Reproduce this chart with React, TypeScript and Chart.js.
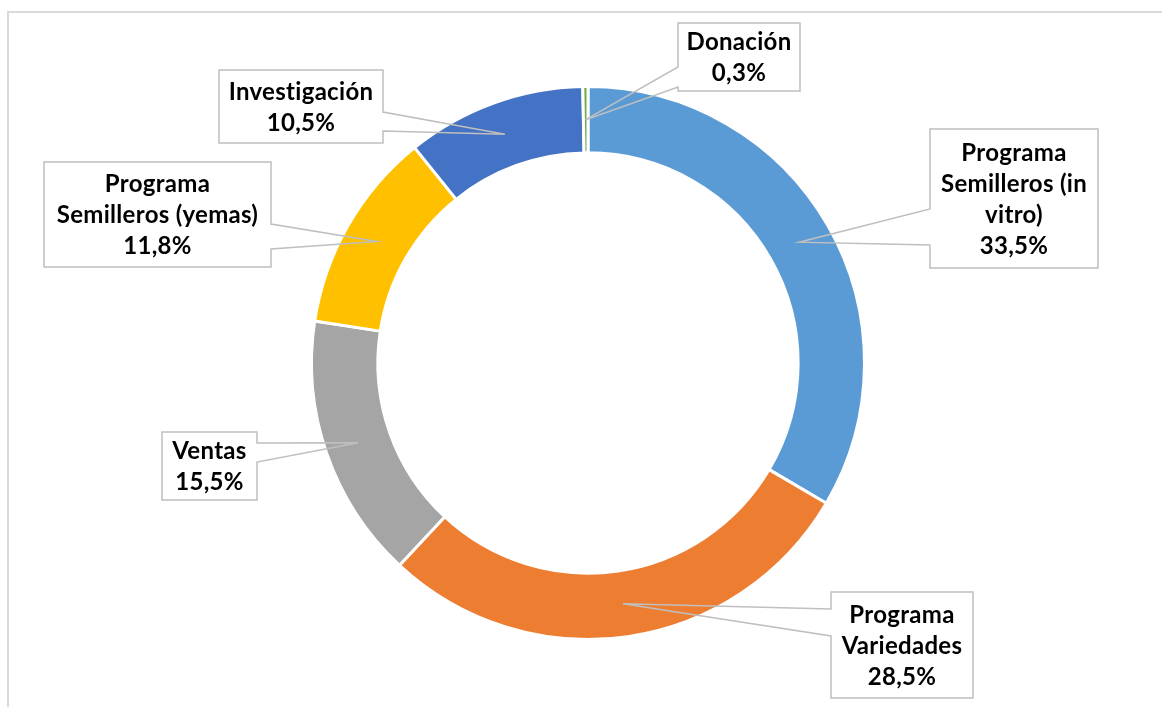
import React, { useEffect, useRef } from "react";
import { Chart, registerables } from "chart.js";

Chart.register(...registerables);

const categories = [
  "Programa Semilleros (in vitro)",
  "Programa Variedades",
  "Ventas",
  "Programa Semilleros (yemas)",
  "Investigación",
  "Donación",
];
const values = [33.5, 28.5, 15.5, 11.8, 10.5, 0.3];
const labelLines = [
  ["Programa", "Semilleros (in", "vitro)"],
  ["Programa", "Variedades"],
  ["Ventas"],
  ["Programa", "Semilleros (yemas)"],
  ["Investigación"],
  ["Donación"],
];
const colors = ["#5B9BD5", "#ED7D31", "#A5A5A5", "#FFC000", "#4472C4", "#70AD47"];

// callout boxes (canvas px): box rect, side where the pointer leaves, pointer base y-range
const calloutLayout = [
  { l: 930, t: 129, r: 1098, b: 268, side: "left", w0: 209, w1: 245 },
  { l: 831, t: 592, r: 973, b: 698, side: "left", w0: 609, w1: 636 },
  { l: 162, t: 432, r: 257, b: 500, side: "right", w0: 443, w1: 462 },
  { l: 44, t: 162, r: 271, b: 267, side: "right", w0: 224, w1: 249 },
  { l: 219, t: 70, r: 383, b: 143, side: "right", w0: 112, w1: 131 },
  { l: 678, t: 23, r: 800, b: 91, side: "left", w0: 67, w1: 87 },
];

const fmt = (v: number) => v.toFixed(1).replace(".", ",") + "%";

const calloutPlugin = {
  id: "callouts",
  beforeDraw(chart: any) {
    const ctx = chart.ctx;
    ctx.save();
    ctx.strokeStyle = "#D9D9D9";
    ctx.lineWidth = 2;
    ctx.strokeRect(8, 12, 1400, 1000);
    ctx.restore();
  },
  afterDraw(chart: any) {
    const ctx = chart.ctx;
    const meta = chart.getDatasetMeta(0);
    meta.data.forEach((arc: any, i: number) => {
      const p = arc.getProps(["x", "y", "startAngle", "endAngle", "innerRadius", "outerRadius"], true);
      const mid = (p.startAngle + p.endAngle) / 2;
      const rr = (p.innerRadius + p.outerRadius) / 2;
      const ax = p.x + Math.cos(mid) * rr;
      const ay = p.y + Math.sin(mid) * rr;
      const c = calloutLayout[i];
      ctx.save();
      ctx.fillStyle = "#FFFFFF";
      ctx.fillRect(c.l, c.t, c.r - c.l, c.b - c.t);
      ctx.strokeStyle = "#BFBFBF";
      ctx.lineWidth = 1.5;
      ctx.lineJoin = "miter";
      ctx.beginPath();
      if (c.side === "left") {
        ctx.moveTo(c.l, c.w0);
        ctx.lineTo(c.l, c.t);
        ctx.lineTo(c.r, c.t);
        ctx.lineTo(c.r, c.b);
        ctx.lineTo(c.l, c.b);
        ctx.lineTo(c.l, c.w1);
        ctx.lineTo(ax, ay);
        ctx.closePath();
      } else {
        ctx.moveTo(c.r, c.w0);
        ctx.lineTo(c.r, c.t);
        ctx.lineTo(c.l, c.t);
        ctx.lineTo(c.l, c.b);
        ctx.lineTo(c.r, c.b);
        ctx.lineTo(c.r, c.w1);
        ctx.lineTo(ax, ay);
        ctx.closePath();
      }
      ctx.stroke();
      const lines = [...labelLines[i], fmt(values[i])];
      const pitch = 31;
      const cx = (c.l + c.r) / 2;
      const cy = (c.t + c.b) / 2;
      ctx.fillStyle = "#000000";
      ctx.font = "bold 24px Lato";
      try {
        (ctx as any).letterSpacing = "0.3px";
      } catch (e) {}
      ctx.textAlign = "center";
      ctx.textBaseline = "middle";
      lines.forEach((s, k) => {
        ctx.fillText(s, cx, cy + (k - (lines.length - 1) / 2) * pitch + 1);
      });
      ctx.restore();
    });
  },
};

export default function App() {
  const ref = useRef<HTMLCanvasElement>(null);
  useEffect(() => {
    if (!ref.current) return;
    const chart = new Chart(ref.current, {
      type: "doughnut",
      data: {
        labels: categories,
        datasets: [
          {
            data: values,
            backgroundColor: colors,
            borderColor: "#FFFFFF",
            borderWidth: 3,
          },
        ],
      },
      options: {
        responsive: false,
        animation: false,
        cutout: "76%",
        layout: { padding: { left: 310, right: 296, top: 85, bottom: 66 } },
        plugins: { legend: { display: false }, tooltip: { enabled: false } },
      },
      plugins: [calloutPlugin],
    });
    return () => chart.destroy();
  }, []);
  return (
    <div style={{ position: "absolute", left: 0, top: 0, width: 1162, height: 707, background: "#fff" }}>
      <canvas ref={ref} width={1162} height={707} style={{ display: "block" }} />
    </div>
  );
}
